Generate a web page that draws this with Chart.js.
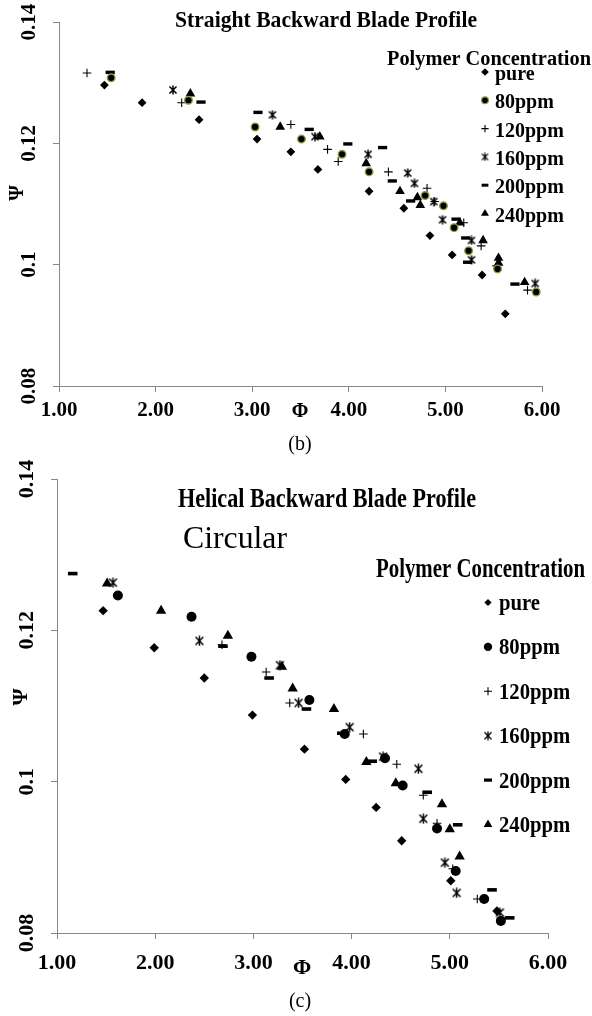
<!DOCTYPE html>
<html>
<head>
<meta charset="utf-8">
<script src="https://cdn.jsdelivr.net/npm/chart.js@4.4.1/dist/chart.umd.min.js"></script>
<style>
  html, body { margin: 0; padding: 0; background: #fff; }
  body { width: 592px; height: 1016px; position: relative; overflow: hidden; }
  canvas { position: absolute; left: 0; }
  #chartB { top: 0; }
  #chartC { top: 430px; }
</style>
</head>
<body>
<canvas id="chartB" width="592" height="470"></canvas>
<canvas id="chartC" width="592" height="586"></canvas>
<script>
const seriesNames = ["pure", "80ppm", "120ppm", "160ppm", "200ppm", "240ppm"];
const phiTicks = [1, 2, 3, 4, 5, 6];
const psiTicks = [0.08, 0.10, 0.12, 0.14];

// (b) Straight backward blade profile
const bPurePhi = [1.47, 1.86, 2.45, 3.05, 3.40, 3.68, 4.21, 4.57, 4.84, 5.07, 5.38, 5.62];
const bPurePsi = [0.1296, 0.1267, 0.1239, 0.1207, 0.1186, 0.1157, 0.1121, 0.1093, 0.1048, 0.1016, 0.0983, 0.0919];
const b80Phi = [1.54, 2.34, 3.03, 3.51, 3.93, 4.21, 4.79, 4.98, 5.09, 5.24, 5.54, 5.94];
const b80Psi = [0.1308, 0.1271, 0.1227, 0.1207, 0.1182, 0.1153, 0.1114, 0.1097, 0.1061, 0.1023, 0.0993, 0.0955];
const b120Phi = [1.29, 2.27, 3.40, 3.78, 3.89, 4.41, 4.81, 4.89, 5.19, 5.37, 5.53, 5.85];
const b120Psi = [0.1316, 0.1267, 0.1231, 0.1190, 0.1170, 0.1153, 0.1126, 0.1104, 0.1069, 0.1031, 0.0998, 0.0958];
const b160Phi = [2.18, 3.21, 3.65, 4.20, 4.61, 4.68, 4.88, 4.97, 5.27, 5.27, 5.93];
const b160Psi = [0.1288, 0.1247, 0.1211, 0.1182, 0.1151, 0.1134, 0.1104, 0.1074, 0.1040, 0.1008, 0.0969];
const b200Phi = [1.53, 2.47, 3.06, 3.59, 3.99, 4.35, 4.45, 4.64, 5.11, 5.21, 5.23, 5.72];
const b200Psi = [0.1317, 0.1268, 0.1251, 0.1223, 0.1199, 0.1193, 0.1138, 0.1105, 0.1075, 0.1044, 0.1004, 0.0968];
const b240Phi = [2.36, 3.29, 3.70, 4.18, 4.53, 4.71, 4.74, 5.15, 5.39, 5.55, 5.55, 5.82];
const b240Psi = [0.1282, 0.1227, 0.1211, 0.1167, 0.1121, 0.1111, 0.1098, 0.1069, 0.1040, 0.1011, 0.1003, 0.0971];

// (c) Helical backward blade profile, circular
const cPurePhi = [1.47, 1.99, 2.50, 2.99, 3.52, 3.94, 4.25, 4.51, 5.01, 5.48];
const cPurePsi = [0.1226, 0.1177, 0.1137, 0.1088, 0.1043, 0.1003, 0.0966, 0.0922, 0.0869, 0.0829];
const c80Phi = [1.62, 2.37, 2.98, 3.57, 3.93, 4.34, 4.52, 4.87, 5.06, 5.35, 5.52];
const c80Psi = [0.1246, 0.1218, 0.1165, 0.1108, 0.1063, 0.1031, 0.0995, 0.0938, 0.0882, 0.0845, 0.0816];
const c120Phi = [2.68, 3.13, 3.37, 4.12, 4.46, 4.73, 4.87, 5.03, 5.28];
const c120Psi = [0.1181, 0.1145, 0.1104, 0.1063, 0.1023, 0.0982, 0.0945, 0.0885, 0.0845];
const c160Phi = [1.57, 2.45, 3.27, 3.46, 3.98, 4.32, 4.68, 4.73, 4.95, 5.07, 5.51];
const c160Psi = [0.1263, 0.1186, 0.1154, 0.1104, 0.1072, 0.1033, 0.1017, 0.0951, 0.0893, 0.0853, 0.0827];
const c200Phi = [1.16, 2.69, 3.16, 3.54, 3.90, 4.21, 4.77, 5.08, 5.43, 5.61];
const c200Psi = [0.1275, 0.1179, 0.1137, 0.1096, 0.1064, 0.1027, 0.0986, 0.0943, 0.0857, 0.0820];
const c240Phi = [1.51, 2.06, 2.74, 3.29, 3.40, 3.82, 4.15, 4.45, 4.92, 5.00, 5.10];
const c240Psi = [0.1262, 0.1226, 0.1193, 0.1152, 0.1123, 0.1096, 0.1026, 0.0998, 0.0970, 0.0937, 0.0901];

const SERIF = '"Liberation Serif", "Times New Roman", serif';
Chart.defaults.font.family = SERIF;

const pts = (xs, ys) => xs.map((x, i) => ({ x: x, y: ys[i] }));

// asterisk marker: an x with a vertical stroke
function makeAsterisk(size, lw) {
  const c = document.createElement("canvas");
  c.width = size; c.height = size;
  const g = c.getContext("2d");
  g.strokeStyle = "#000";
  g.lineWidth = lw;
  const m = size / 2, a = size / 2 - 0.6, d = a * 0.8;
  g.beginPath();
  g.moveTo(m - d, m - d); g.lineTo(m + d, m + d);
  g.moveTo(m + d, m - d); g.lineTo(m - d, m + d);
  g.moveTo(m, m - a); g.lineTo(m, m + a);
  g.stroke();
  return c;
}

function drawText(ctx, t) {
  ctx.save();
  ctx.font = t.font;
  ctx.fillStyle = "#000";
  ctx.textBaseline = t.base || "alphabetic";
  ctx.textAlign = t.align || "center";
  ctx.translate(t.x, t.y);
  if (t.rot) ctx.rotate(t.rot);
  let sx = t.sx || 1;
  if (t.w) sx = t.w / ctx.measureText(t.text).width;
  ctx.scale(sx, 1);
  ctx.fillText(t.text, 0, 0);
  ctx.restore();
}

function notes(cfg) {
  return {
    id: "notes",
    afterDraw(chart) {
      const ctx = chart.ctx;
      cfg.texts.forEach(t => drawText(ctx, t));
      const L = cfg.legend;
      chart.data.datasets.forEach((ds, i) => {
        const base = L.y0 + i * L.dy;
        ctx.save();
        ctx.fillStyle = ds.pointBackgroundColor;
        ctx.strokeStyle = ds.pointBorderColor;
        const bw = L.bw[i] != null ? L.bw[i] : ds.pointBorderWidth;
        ctx.lineWidth = bw;
        Chart.helpers.drawPoint(ctx, {
          pointStyle: L.style[i] || ds.pointStyle,
          radius: L.r[i], rotation: 0, borderWidth: bw
        }, L.mx, base - L.rise);
        ctx.restore();
        drawText(ctx, { text: ds.label, x: L.tx, y: base, align: "left", font: L.font, sx: L.sx });
      });
    }
  };
}

function makeChart(id, sets, geo, cfg) {
  const tickFont = { family: SERIF, size: geo.tickSize, weight: "bold" };
  const grid = { drawOnChartArea: false, drawTicks: true, tickLength: 6, color: "#878787", lineWidth: 1 };
  const border = { display: true, color: "#878787", width: 1 };
  return new Chart(document.getElementById(id), {
    type: "scatter",
    data: { datasets: sets },
    options: {
      responsive: false,
      animation: false,
      devicePixelRatio: 1,
      layout: { padding: { top: geo.top, right: geo.right, left: 0, bottom: 0 } },
      plugins: { legend: { display: false }, tooltip: { enabled: false } },
      scales: {
        x: {
          type: "linear",
          min: phiTicks[0], max: phiTicks[phiTicks.length - 1],
          afterBuildTicks: s => { s.ticks = phiTicks.map(v => ({ value: v })); },
          ticks: { callback: v => Number(v).toFixed(2), font: tickFont, color: "#000", padding: geo.xPad, autoSkip: false, maxRotation: 0 },
          grid: grid, border: border,
          afterFit: s => { s.height = geo.xHeight; }
        },
        y: {
          type: "linear",
          min: psiTicks[0], max: psiTicks[psiTicks.length - 1],
          afterBuildTicks: s => { s.ticks = psiTicks.map(v => ({ value: v })); },
          ticks: {
            callback: v => String(Number(Number(v).toFixed(2))),
            font: tickFont, color: "#000", padding: geo.yPad, autoSkip: false,
            minRotation: 90, maxRotation: 90, crossAlign: "center"
          },
          grid: grid, border: border,
          afterFit: s => { s.width = geo.yWidth; }
        }
      }
    },
    plugins: [notes(cfg)]
  });
}

// ---- chart (b)
const starB = makeAsterisk(10, 1.5);
const bSets = [
  { label: seriesNames[0], data: pts(bPurePhi, bPurePsi), pointStyle: "rectRot", pointRadius: 4.4, pointBackgroundColor: "#000", pointBorderColor: "#000", pointBorderWidth: 0 },
  { label: seriesNames[1], data: pts(b80Phi, b80Psi), pointStyle: "circle", pointRadius: 3.8, pointBackgroundColor: "#000", pointBorderColor: "#8c9b3e", pointBorderWidth: 1.4 },
  { label: seriesNames[2], data: pts(b120Phi, b120Psi), pointStyle: "cross", pointRadius: 4.3, pointBackgroundColor: "#000", pointBorderColor: "#000", pointBorderWidth: 1.1 },
  { label: seriesNames[3], data: pts(b160Phi, b160Psi), pointStyle: starB, pointRadius: 5, pointBackgroundColor: "#000", pointBorderColor: "#000", pointBorderWidth: 1 },
  { label: seriesNames[4], data: pts(b200Phi, b200Psi), pointStyle: "line", pointRadius: 4.6, pointBackgroundColor: "#000", pointBorderColor: "#000", pointBorderWidth: 3.4 },
  { label: seriesNames[5], data: pts(b240Phi, b240Psi), pointStyle: "triangle", pointRadius: 5.6, pointBackgroundColor: "#000", pointBorderColor: "#000", pointBorderWidth: 0 }
];
makeChart("chartB", bSets,
  { top: 22, right: 50, yWidth: 59, xHeight: 84, tickSize: 21, xPad: 6.4, yPad: 4.6 },
  {
    texts: [
      { text: "Straight Backward Blade Profile", x: 326, y: 27, w: 302, font: "bold 24px " + SERIF },
      { text: "Polymer Concentration", x: 387, y: 65, w: 204, align: "left", font: "bold 20px " + SERIF },
      { text: "\u03A8", x: 18, y: 193, rot: -Math.PI / 2, base: "middle", font: "bold 20px " + SERIF },
      { text: "\u03A6", x: 300, y: 412, base: "middle", font: "bold 20px " + SERIF },
      { text: "(b)", x: 300, y: 445, base: "middle", font: "20px " + SERIF }
    ],
    legend: {
      mx: 485, tx: 495, y0: 80, dy: 28.3, rise: 8,
      r: [3.8, 3.4, 3.6, 0, 3.4, 4.6], bw: [null, 1.2, null, null, 3, null],
      style: [null, null, null, makeAsterisk(9, 1.3), null, null],
      font: "bold 20px " + SERIF, sx: 1
    }
  });

// ---- chart (c)
const starC = makeAsterisk(11, 1.5);
const cSets = [
  { label: seriesNames[0], data: pts(cPurePhi, cPurePsi), pointStyle: "rectRot", pointRadius: 4.7, pointBackgroundColor: "#000", pointBorderColor: "#000", pointBorderWidth: 0 },
  { label: seriesNames[1], data: pts(c80Phi, c80Psi), pointStyle: "circle", pointRadius: 5, pointBackgroundColor: "#000", pointBorderColor: "#000", pointBorderWidth: 0 },
  { label: seriesNames[2], data: pts(c120Phi, c120Psi), pointStyle: "cross", pointRadius: 4.3, pointBackgroundColor: "#000", pointBorderColor: "#000", pointBorderWidth: 1.1 },
  { label: seriesNames[3], data: pts(c160Phi, c160Psi), pointStyle: starC, pointRadius: 5, pointBackgroundColor: "#000", pointBorderColor: "#000", pointBorderWidth: 1 },
  { label: seriesNames[4], data: pts(c200Phi, c200Psi), pointStyle: "line", pointRadius: 4.8, pointBackgroundColor: "#000", pointBorderColor: "#000", pointBorderWidth: 3.6 },
  { label: seriesNames[5], data: pts(c240Phi, c240Psi), pointStyle: "triangle", pointRadius: 6, pointBackgroundColor: "#000", pointBorderColor: "#000", pointBorderWidth: 0 }
];
makeChart("chartC", cSets,
  { top: 49, right: 44, yWidth: 57, xHeight: 83, tickSize: 22, xPad: 10.8, yPad: 4.75 },
  {
    texts: [
      { text: "Helical Backward Blade Profile", x: 327, y: 76.7, w: 298, font: "bold 27px " + SERIF },
      { text: "Circular", x: 235, y: 118, w: 104, font: "32px " + SERIF },
      { text: "Polymer Concentration", x: 376, y: 146.7, w: 209, align: "left", font: "bold 27px " + SERIF },
      { text: "\u03A8", x: 21, y: 267, rot: -Math.PI / 2, base: "middle", font: "bold 22px " + SERIF },
      { text: "\u03A6", x: 302, y: 538, base: "middle", font: "bold 22px " + SERIF },
      { text: "(c)", x: 300, y: 572, base: "middle", font: "20px " + SERIF }
    ],
    legend: {
      mx: 488, tx: 499, y0: 180, dy: 44.4, rise: 7.5,
      r: [3.6, 4.2, 4, 0, 4, 5], bw: [null, null, null, null, 3.2, null],
      style: [null, null, null, makeAsterisk(10, 1.3), null, null],
      font: "bold 23px " + SERIF, sx: 0.9
    }
  });
</script>
</body>
</html>
